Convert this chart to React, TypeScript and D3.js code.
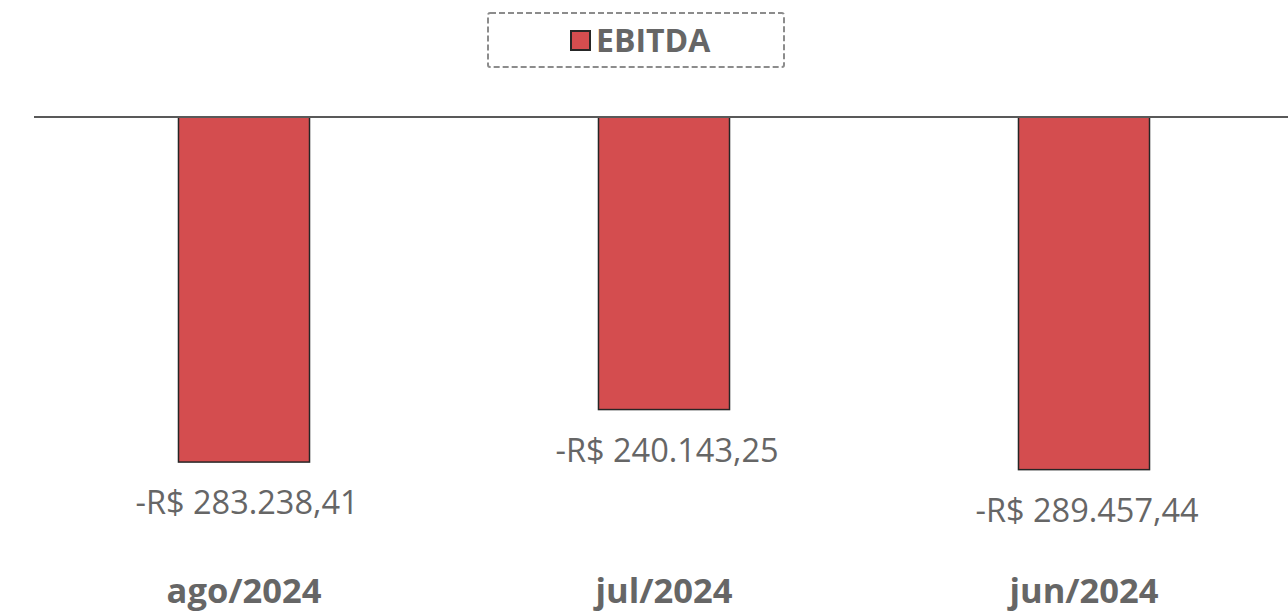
import React from "react";
import * as d3 from "d3";

const categories = ["ago/2024", "jul/2024", "jun/2024"];
const ebitda = [-283238.41, -240143.25, -289457.44];
const seriesName = "EBITDA";

const W = 1288;
const H = 612;

function fmt(v: number): string {
  const abs = Math.abs(v);
  const parts = abs.toFixed(2).split(".");
  const intPart = parts[0].replace(/\B(?=(\d{3})+(?!\d))/g, ".");
  return (v < 0 ? "-" : "") + "R$ " + intPart + "," + parts[1];
}

export default function App() {
  const x = d3.scaleBand<string>().domain(categories).range([34, 1294]).padding(0);
  const y = d3.scaleLinear().domain([-350000, 0]).range([543.4, 117]);
  const barW = x.bandwidth() * 0.312;
  const font = "'Open Sans', sans-serif";
  const gray = "#666666";

  return (
    <svg width={W} height={H} style={{ position: "absolute", left: 0, top: 0, background: "#fff" }}>
      {/* legend */}
      <rect x={488} y={13} width={296} height={54} fill="none" stroke="#8c8c8c" strokeWidth={2} strokeDasharray="6,3" rx={2} />
      <rect x={571} y={31} width={19} height={19} fill="#d44d4f" stroke="#262626" strokeWidth={2} />
      <text x={596} y={52} fontFamily={font} fontWeight={700} fontSize={32} fill={gray}>{seriesName}</text>

      {/* bars */}
      {categories.map((c, i) => {
        const cx = (x(c) as number) + x.bandwidth() / 2;
        const v = ebitda[i];
        return (
          <g key={c}>
            <rect
              x={cx - barW / 2}
              y={y(0)}
              width={barW}
              height={y(v) - y(0)}
              fill="#d44d4f"
              stroke="#262626"
              strokeWidth={1.5}
            />
            <text x={cx + 3} y={y(v) + 52} textAnchor="middle" fontFamily={font} fontSize={32.5} fill={gray}>
              {fmt(v)}
            </text>
            <text x={cx} y={603} textAnchor="middle" fontFamily={font} fontWeight={700} fontSize={34.5} fill={gray}>
              {c}
            </text>
          </g>
        );
      })}

      {/* zero axis line */}
      <line x1={34} x2={1288} y1={y(0)} y2={y(0)} stroke="#595959" strokeWidth={2} />
    </svg>
  );
}
